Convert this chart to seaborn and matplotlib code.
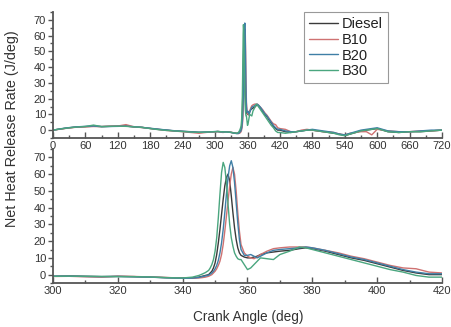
import numpy as np
import pandas as pd
import matplotlib
matplotlib.use("Agg")
import matplotlib.pyplot as plt
import seaborn as sns
from matplotlib.ticker import MultipleLocator

# ---- data ----
angle = [0, 15, 30, 45, 60, 75, 90, 105, 120, 135, 150, 165, 180, 195, 210, 225, 240, 255, 270, 285,
         300, 305, 310, 315, 320, 325, 330, 335, 340, 343, 345, 346, 347,
         348, 348.5, 349, 349.5, 350, 350.5, 351, 351.5, 352, 352.5, 353, 353.5, 354, 354.5, 355,
         355.5, 356, 356.5, 357, 357.5, 358,
         359, 360, 361, 362, 363, 364, 366, 368, 370, 373, 376, 378, 380, 384, 388, 392, 396, 400,
         404, 408, 412, 416, 420,
         430, 440, 450, 460, 470, 480, 490, 500, 510, 520, 530, 540, 550, 560, 570, 580, 590, 600,
         610, 620, 640, 660, 680, 700, 720]

diesel = [0, 0.8, 1.5, 2, 2.2, 2.5, 2.3, 2.4, 2.5, 2.6, 2, 1.8, 1, 0.5, 0, -0.5, -0.8, -1, -1.5, -1.3,
          -1, -0.8, -1, -1.2, -1, -1.2, -1.5, -1.8, -2, -2, -1.5, -1, -0.5,
          0, 1, 2, 4, 7, 12, 19, 27, 36, 45, 53, 58, 60, 56, 47, 37, 28, 21, 16, 13, 11.5,
          10.5, 10, 10, 10.5, 11, 12, 13, 13.5, 14, 14.5, 15.5, 16, 15.5, 14, 12, 10, 8.5, 6.5,
          4.5, 2.5, 1, 0, 0,
          -1, -1.5, -1, -0.5, 0, 0, -0.5, -1, -1.5, -2, -2.5, -3.5, -2.5, -1.5, -0.5, 0, 0.5, 1,
          0, -1, -1.5, -1, -1, -0.5, 0]

b10 = [0, 0.7, 1.4, 1.9, 2.1, 2.3, 2.2, 2.5, 2.6, 3.5, 2.1, 1.6, 1.1, 0.4, -0.2, -0.6, -1, -1.5, -2, -1.4,
       -1.1, -1, -1.3, -1.5, -1, -1.1, -1.4, -1.7, -2.1, -2.2, -2, -1.8, -1.5,
       -1, -0.5, 0, 1, 2, 3.5, 5.5, 8, 12, 18, 26, 35, 44, 53, 60, 64, 60, 50, 37, 26, 18,
       13, 11, 10, 9.5, 10.5, 12, 14, 15.5, 16, 16.5, 16.5, 16.5, 16, 14.5, 13, 11, 9.5, 7.5,
       5.5, 4, 3.5, 1.5, 1,
       0.5, -1, -1, 0, 0.5, 0, -0.5, -1, -1, -1.5, -2.5, -3, -2, -1.5, -1, -1, -3, 0.5,
       0, -0.5, -1, -1, -0.5, -0.5, 0]

b20 = [0, 0.9, 1.6, 2.1, 2.4, 2.6, 2.2, 2.3, 2.4, 2.5, 2.2, 1.7, 1.2, 0.6, 0.1, -0.4, -0.7, -1.1, -1.3, -1.2,
       -0.9, -0.9, -1.1, -1.2, -1.1, -1.3, -1.5, -1.9, -2.2, -2.1, -1.7, -1.2, -0.8,
       -0.3, 0.3, 1, 2, 3.5, 5.5, 8.5, 13, 19, 27, 37, 48, 58, 65, 68, 64, 55, 43, 31, 21, 15,
       11.5, 11.5, 12, 11, 10, 11, 13, 14.5, 15, 15.5, 16, 16.5, 16, 14.5, 12.5, 10.5, 9, 7,
       5, 3, 1.5, 0.5, 0.5,
       -0.5, -1, -1, -0.5, 0, 0.5, 0, -0.5, -1, -1.5, -2.5, -3, -2, -1, 0, 0.5, 1, 1.5,
       0.5, -0.5, -1, -1, -0.5, 0, 0]

b30 = [0, 0.8, 1.5, 2, 2.3, 3.2, 2.2, 2.4, 2.5, 2.4, 2.1, 1.7, 1, 0.3, -0.2, -0.5, -0.9, -1.2, -1.4, -1.2,
       -1, -0.9, -1, -1.1, -1.2, -1.2, -1.4, -1.8, -2, -1.5, -0.5, 0.3, 1.2,
       2.5, 4, 6, 9, 14, 22, 34, 48, 61, 67, 64, 55, 42, 30, 22, 17, 13, 11, 9.5, 9, 9,
       6, 3, 4, 6, 8, 10, 9.5, 9, 12, 14, 16.5, 16, 15, 13, 11, 9, 7, 5,
       3, 1.5, -0.5, -1.5, -1.5,
       -2, -1.5, -1, -0.5, 0, 0, -0.5, -1, -1.5, -2, -3, -3.5, -2.5, -1.5, -0.5, 0, 0.5, 1,
       0, -1, -1.5, -1, -1, -0.5, 0]

fuels = ["Diesel", "B10", "B20", "B30"]
colors = ["#3a3a3a", "#cf7272", "#3f7fa6", "#4aa67f"]

top_xticks = [0, 60, 120, 180, 240, 300, 360, 420, 480, 540, 600, 660, 720]
bottom_xticks = [300, 320, 340, 360, 380, 400, 420]
yticks = [0, 10, 20, 30, 40, 50, 60, 70]

# ---- long table ----
frames = []
for name, vals in zip(fuels, [diesel, b10, b20, b30]):
    frames.append(pd.DataFrame({"angle": angle, "hrr": vals, "fuel": name}))
df = pd.concat(frames, ignore_index=True)

sns.set_theme(style="white")
plt.rcParams["font.family"] = ["Liberation Sans", "DejaVu Sans"]

W, H = 452, 327
fig = plt.figure(figsize=(W / 100, H / 100), dpi=100)

def rect(x0, y0, x1, y1):
    return [x0 / W, 1 - y1 / H, (x1 - x0) / W, (y1 - y0) / H]

ax1 = fig.add_axes(rect(53, 12, 442, 138))
ax2 = fig.add_axes(rect(53, 149, 442, 283))

pal = dict(zip(fuels, colors))
for ax in (ax1, ax2):
    sns.lineplot(data=df, x="angle", y="hrr", hue="fuel", hue_order=fuels, palette=pal,
                 estimator=None, sort=False, linewidth=1.0, ax=ax, legend=(ax is ax1))

spine_c = "#555555"
for ax in (ax1, ax2):
    ax.set_facecolor("none")
    for s in ("top", "right"):
        ax.spines[s].set_visible(False)
    for s in ("left", "bottom"):
        ax.spines[s].set_color(spine_c)
        ax.spines[s].set_linewidth(1.3)
    ax.set_ylim(-5, 75)
    ax.set_yticks(yticks)
    ax.yaxis.set_minor_locator(MultipleLocator(5))
    ax.tick_params(axis="y", which="both", direction="out", left=True, colors=spine_c,
                   labelcolor="#333333", labelsize=8, width=1)
    ax.tick_params(axis="y", which="major", length=3.5, pad=1.5)
    ax.tick_params(axis="y", which="minor", length=2)
    ax.tick_params(axis="x", which="both", direction="in", bottom=True, colors=spine_c,
                   labelcolor="#333333", labelsize=8, width=1)
    ax.tick_params(axis="x", which="major", length=4, pad=2.5)
    ax.tick_params(axis="x", which="minor", length=2.5)
    ax.set_xlabel("")
    ax.set_ylabel("")

ax1.set_xlim(0, 720)
ax1.set_xticks(top_xticks)
ax1.xaxis.set_minor_locator(MultipleLocator(30))

ax2.set_xlim(300, 420)
ax2.set_xticks(bottom_xticks)
ax2.xaxis.set_minor_locator(MultipleLocator(10))

leg = ax1.legend(loc="upper right", bbox_to_anchor=((388 - 53) / 389, 1.0), borderaxespad=0,
                 fontsize=10.5, handlelength=2.0, handletextpad=0.25, labelspacing=0.12,
                 frameon=True, fancybox=False, framealpha=1, edgecolor="#999999",
                 borderpad=0.35)
leg.get_frame().set_linewidth(0.8)
for line in leg.get_lines():
    line.set_linewidth(1.0)
for t in leg.get_texts():
    t.set_color("#222222")

fig.text(248 / W, 1 - 317 / H, "Crank Angle (deg)", ha="center", va="center",
         fontsize=9.8, color="#333333")
fig.text(12 / W, 1 - 129 / H, "Net Heat Release Rate (J/deg)", ha="center", va="center",
         rotation=90, fontsize=10.4, color="#333333")

fig.savefig("out.png", dpi=100)
